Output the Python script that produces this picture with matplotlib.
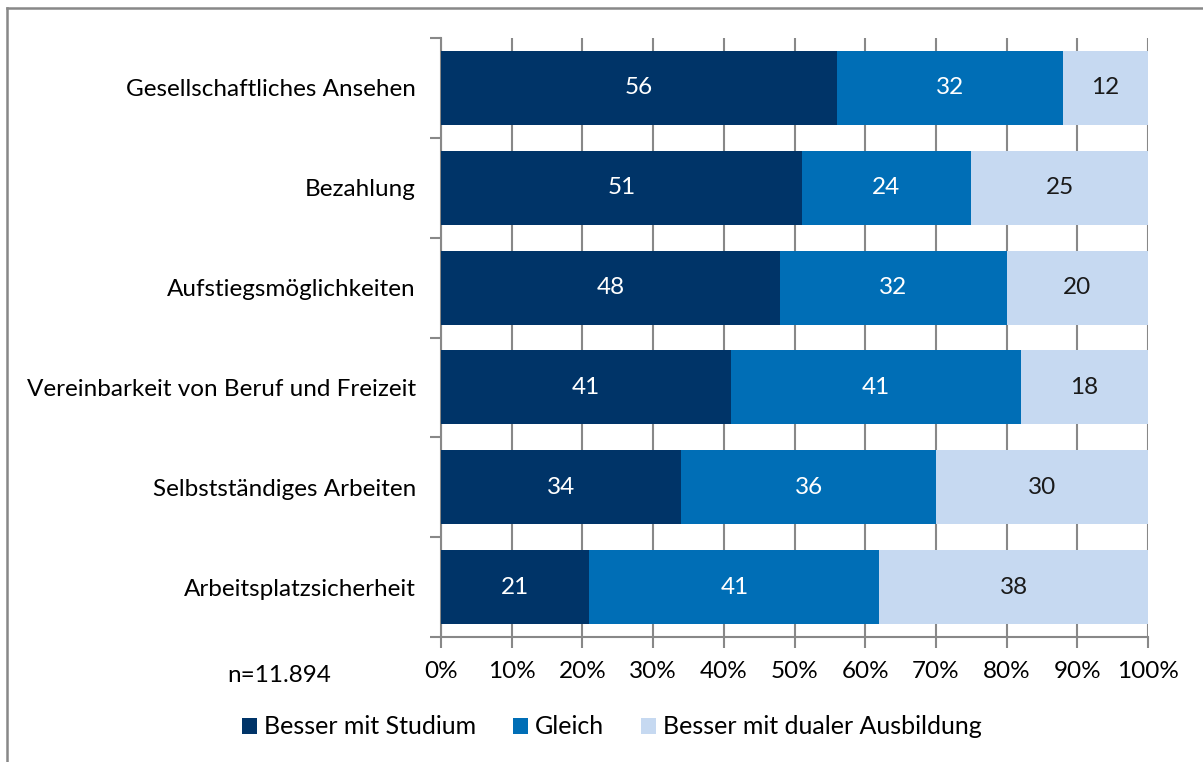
import matplotlib
matplotlib.use("Agg")
import matplotlib.pyplot as plt
from matplotlib.patches import Patch
from matplotlib.lines import Line2D

categories = ["Gesellschaftliches Ansehen", "Bezahlung", "Aufstiegsmöglichkeiten",
              "Vereinbarkeit von Beruf und Freizeit", "Selbstständiges Arbeiten",
              "Arbeitsplatzsicherheit"]
studium = [56, 51, 48, 41, 34, 21]
gleich = [32, 24, 32, 41, 36, 41]
dual = [12, 25, 20, 18, 30, 38]
series_names = ["Besser mit Studium", "Gleich", "Besser mit dualer Ausbildung"]
xticks = [0, 10, 20, 30, 40, 50, 60, 70, 80, 90, 100]
note = "n=11.894"

colors = ["#003468", "#006EB6", "#C6D9F1"]
text_colors = ["white", "white", "#1a1a1a"]

plt.rcParams['font.family'] = ['Lato', 'DejaVu Sans']
FS = 17.5

W, H = 1203, 762
fig = plt.figure(figsize=(W / 100, H / 100), dpi=100)
ax = fig.add_axes([441 / W, 1 - 637 / H, (1148 - 441) / W, (637 - 38) / H])

n = len(categories)
ypos = [n - 1 - i for i in range(n)]
left = [0] * n
for vals, c, tc in zip([studium, gleich, dual], colors, text_colors):
    ax.barh(ypos, vals, left=left, height=0.74, color=c, zorder=3)
    for y, v, l in zip(ypos, vals, left):
        ax.text(l + v / 2, y, str(v), ha="center", va="center", color=tc,
                fontsize=FS, zorder=4)
    left = [a + b for a, b in zip(left, vals)]

ax.set_xlim(0, 100)
ax.set_ylim(-0.5, n - 0.5)
ax.set_xticks(xticks)
ax.set_xticklabels([f"{t}%" for t in xticks], fontsize=FS)
ax.set_yticks(ypos)
ax.set_yticklabels(categories, fontsize=FS)
ax.tick_params(axis="y", length=0, pad=18)
ax.set_yticks([i - 0.5 for i in range(n + 1)], minor=True)
ax.tick_params(axis="y", which="minor", length=8, width=1.5, color="#888888")
ax.tick_params(axis="x", length=8, width=1.5, color="#888888", pad=9)
ax.grid(axis="x", color="#888888", linewidth=1.5, zorder=0)
for s in ["top", "right"]:
    ax.spines[s].set_visible(False)
for s in ["left", "bottom"]:
    ax.spines[s].set_color("#888888")
    ax.spines[s].set_linewidth(1.5)
ax.set_axisbelow(True)

fig.text(279 / W, 1 - 676 / H, note, ha="center", va="center", fontsize=FS)

handles = [Patch(facecolor=c, edgecolor="none") for c in colors]
fig.legend(handles, series_names, loc="center", bbox_to_anchor=(612 / W, 1 - 727 / H),
           ncol=3, frameon=False, fontsize=18, handlelength=0.6, handleheight=0.6,
           handletextpad=0.3, columnspacing=1.45)

# outer frame (top and left visible)
fig.add_artist(Line2D([7 / W, 1.0], [1 - 8 / H, 1 - 8 / H], color="#888888", linewidth=1.8,
                      transform=fig.transFigure))
fig.add_artist(Line2D([7 / W, 7 / W], [0, 1 - 8 / H], color="#888888", linewidth=1.8,
                      transform=fig.transFigure))

fig.savefig("out.png", dpi=100)
